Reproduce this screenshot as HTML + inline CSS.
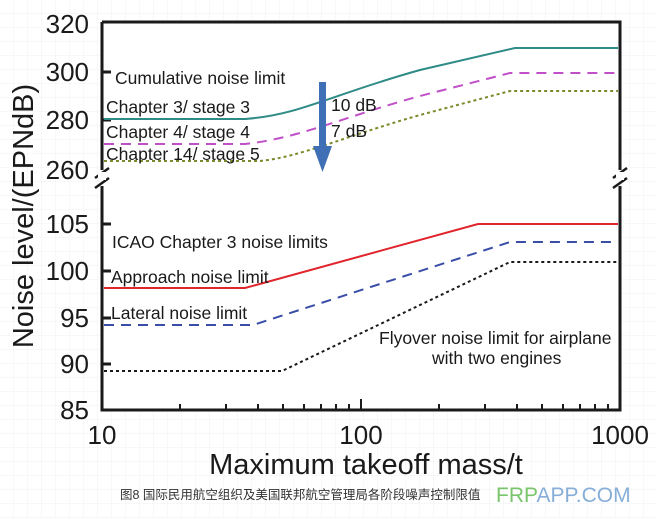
<!DOCTYPE html>
<html><head><meta charset="utf-8"><style>
html,body{margin:0;padding:0;background:#fff}
svg{display:block}
text{font-family:"Liberation Sans",Arial,sans-serif}
</style></head><body>
<svg width="656" height="518" viewBox="0 0 656 518" xmlns="http://www.w3.org/2000/svg">
<defs>
<pattern id="g" width="14" height="14" patternUnits="userSpaceOnUse"><path d="M14 0V14H0" fill="none" stroke="#eef0f4" stroke-width="1"/></pattern>
</defs>
<rect width="656" height="518" fill="#fff"/>
<rect width="656" height="518" fill="url(#g)"/>
<rect x="102" y="22" width="518" height="388" fill="#fff"/>
<g stroke="#1a1a1a" stroke-width="3" fill="none">
<path d="M102 22H620V170"/><path d="M620 186V410H102V186"/><path d="M102 170V22"/>
</g>
<g stroke="#1a1a1a" stroke-width="2.5" fill="none">
<path d="M95 178L109 168M95 188L109 178"/>
<path d="M613 178L627 168M613 188L627 178"/>
</g>
<rect x="98" y="172" width="8" height="8" fill="#fff"/>
<rect x="616" y="172" width="8" height="8" fill="#fff"/>
<g stroke="#1a1a1a" stroke-width="3">
<path d="M102 72h9M102 120h9M102 224h9M102 271h9M102 318h9M102 364h9"/>
</g>
<g stroke="#1a1a1a" stroke-width="2">
<path d="M180 410v-6M226 410v-6M258 410v-6M283 410v-6M304 410v-6M321 410v-6M336 410v-6M349 410v-6M361 410v-11M439 410v-6M485 410v-6M517 410v-6M542 410v-6M563 410v-6M580 410v-6M595 410v-6M608 410v-6"/>
</g>
<g fill="none" stroke-width="2">
<path d="M104 119H245C300 115 330 95 420 70L515 48H618" stroke="#2e8b86"/>
<path d="M104 144H245C300 138 340 118 420 96L510 73H618" stroke="#c050c8" stroke-dasharray="10,7"/>
<path d="M104 161H260C300 157 340 138 420 115L510 91H618" stroke="#7a8a2a" stroke-dasharray="3,3"/>
<path d="M104 288H245L478 224H618" stroke="#e0242c"/>
<path d="M104 325H253L510 242H618" stroke="#3a4ea8" stroke-dasharray="10,7"/>
<path d="M104 371H282L510 262H618" stroke="#1a1a1a" stroke-dasharray="3,3"/>
</g>
<rect x="319" y="82" width="7" height="66" fill="#3f6fb5"/>
<path d="M313 146H332L322.5 172Z" fill="#3f6fb5"/>
<g font-size="26" fill="#1a1a1a" text-anchor="end">
<text x="89" y="33">320</text><text x="89" y="81">300</text><text x="89" y="129">280</text><text x="89" y="179">260</text>
<text x="89" y="233">105</text><text x="89" y="280">100</text><text x="89" y="327">95</text><text x="89" y="373">90</text><text x="89" y="419">85</text>
</g>
<g font-size="26" fill="#1a1a1a" text-anchor="middle">
<text x="102" y="444">10</text><text x="361" y="444">100</text><text x="620" y="444">1000</text>
</g>
<text x="366" y="474" font-size="29" text-anchor="middle" fill="#1a1a1a">Maximum takeoff mass/t</text>
<text transform="translate(33 216) rotate(-90)" font-size="29" text-anchor="middle" fill="#1a1a1a">Noise level/(EPNdB)</text>
<g font-size="17.5" fill="#1a1a1a">
<text x="115" y="84">Cumulative noise limit</text>
<text x="106" y="113">Chapter 3/ stage 3</text>
<text x="106" y="138">Chapter 4/ stage 4</text>
<text x="106" y="160">Chapter 14/ stage 5</text>
<text x="331" y="111">10 dB</text>
<text x="331" y="137">7 dB</text>
<text x="112" y="248">ICAO Chapter 3 noise limits</text>
<text x="111" y="283">Approach noise limit</text>
<text x="111" y="319">Lateral noise limit</text>
<text x="379" y="344">Flyover noise limit for airplane</text>
<text x="432" y="364">with two engines</text>
</g>
<text x="120" y="499" font-size="12.5" fill="#333" font-family="'Liberation Sans','Noto Sans CJK SC',sans-serif">图8 国际民用航空组织及美国联邦航空管理局各阶段噪声控制限值</text>
<text x="496" y="502" font-size="21" fill="#6bbf5a" opacity="0.9">FRP<tspan fill="#7aa6d4">APP.COM</tspan></text>
</svg>
</body></html>
